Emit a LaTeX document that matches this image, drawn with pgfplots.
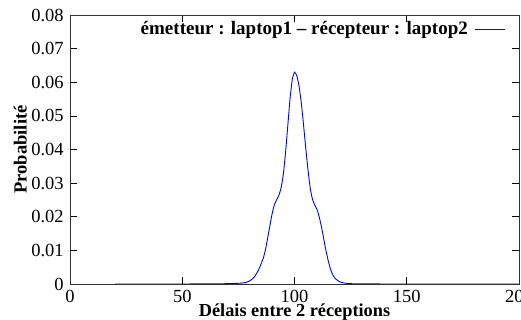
\documentclass[border=0pt]{standalone}
\usepackage{pgfplots}
\pgfplotsset{compat=1.18}
\usepackage{fontspec}
\setmainfont{Liberation Serif}

\begin{document}
\fontsize{18.5}{22}\selectfont
\begin{tikzpicture}
\begin{axis}[
    name=ax,
    scale only axis,
    width=449pt, height=269pt,
    xmin=0, xmax=200, ymin=0, ymax=0.08,
    xtick={0,50,100,150,200},
    ytick={0,0.01,0.02,0.03,0.04,0.05,0.06,0.07,0.08},
    yticklabel style={/pgf/number format/fixed, /pgf/number format/precision=2},
    /pgf/number format/assume math mode=true,
    scaled y ticks=false,
    tick align=inside,
    major tick length=7pt,
    tick style={black, line width=0.6pt},
    axis line style={black!80, line width=0.8pt},
    xlabel={\bfseries Délais entre 2 réceptions},
    ylabel={\bfseries Probabilité},
    xlabel style={yshift=11.5pt, font=\fontsize{18.3}{21}\selectfont},
    ylabel style={yshift=-8pt},
    legend plot pos=right,
    legend style={draw=none, fill=none, at={(0.971,0.985)}, anchor=north east,
                  font=\fontsize{19}{22}\selectfont\bfseries, inner sep=0pt},
    legend image code/.code={\path (0pt,0pt); \draw[#1] (5pt,0pt) -- (35pt,0pt);},
]
\addplot[blue, line width=0.9pt, smooth, tension=0.3] coordinates {
    (20,0) (40,0.00001) (60,0.00002) (70,0.0001) (75,0.0002) (78,0.0004)
    (80,0.0009) (82,0.0020) (84,0.0042) (86,0.0075) (87,0.0100) (88,0.0135)
    (89,0.0172) (90,0.0208) (91,0.0235) (92,0.0250) (93,0.0263) (94,0.0285)
    (95,0.0325) (96,0.0390) (97,0.0470) (98,0.0550) (99,0.0608) (100,0.0630)
    (101,0.0620) (102,0.0590) (103,0.0540) (104,0.0475) (105,0.0405)
    (106,0.0340) (107,0.0285) (108,0.0252) (109,0.0235) (110,0.0222)
    (111,0.0200) (112,0.0170) (113,0.0135) (114,0.0100) (115,0.0070)
    (116,0.0045) (117,0.0028) (118,0.0017) (120,0.0007) (122,0.0003)
    (125,0.0001) (130,0.00004) (140,0.00001) (160,0) (200,0)
};
\addlegendentry{émetteur : laptop1 -- récepteur : laptop2}
\end{axis}
\pgfresetboundingbox
\path[use as bounding box] ([xshift=-70pt,yshift=-36pt]ax.south west) rectangle ([xshift=2pt,yshift=15pt]ax.north east);
\end{tikzpicture}
\end{document}
